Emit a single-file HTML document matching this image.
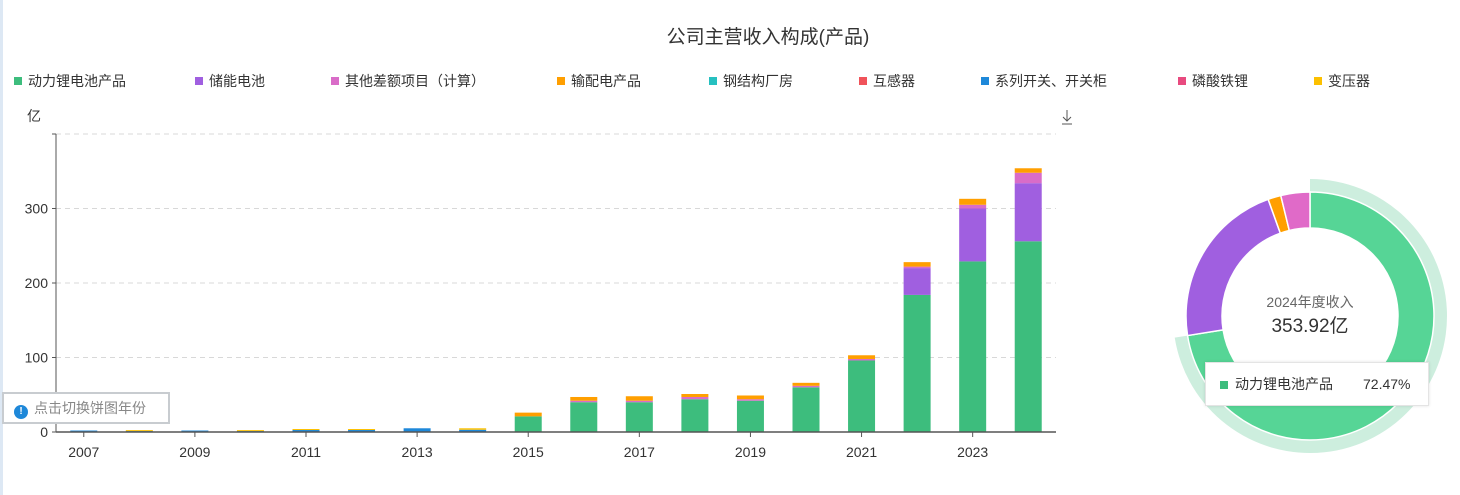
<!DOCTYPE html>
<html><head><meta charset="utf-8">
<style>
body{margin:0;width:1460px;height:495px;background:#fff;overflow:hidden;font-family:"Liberation Sans","Noto Sans CJK SC",sans-serif;position:relative}
.strip{position:absolute;left:0;top:0;width:3px;height:495px;background:#dde8f4}
.title{position:absolute;left:0;width:1536px;top:22px;text-align:center;font-size:19px;color:#333}
.leg{position:absolute;top:71px;font-size:14px;color:#333;white-space:nowrap}
.leg i{display:inline-block;width:8px;height:8px;margin-right:6px;vertical-align:1px}
.tip{position:absolute;left:2px;top:392px;width:164px;height:28px;border:2px solid #c8ccd0;background:#fff;font-size:14px;color:#888;line-height:28px}
.tip b{display:inline-block;width:14px;height:14px;border-radius:50%;background:#1e88d9;color:#fff;font-size:10px;line-height:14px;text-align:center;margin:0 6px 0 10px;vertical-align:-1px}
.tt{position:absolute;left:1205px;top:362px;width:222px;height:42px;background:#fff;border:1px solid #e4e4e4;box-shadow:0 0 3px rgba(0,0,0,.12);font-size:14px;color:#333;line-height:42px}
</style></head><body>
<div class="strip"></div>
<div class="title">公司主营收入构成(产品)</div>
<div id="legend"></div>
<svg id="chart" width="1460" height="495" style="position:absolute;left:0;top:0"></svg>
<div class="tip"><b>!</b>点击切换饼图年份</div>
<div class="tt"><span style="display:inline-block;width:8px;height:8px;background:#3dbd7d;margin:0 7px 0 14px"></span>动力锂电池产品<span style="position:absolute;left:157px">72.47%</span></div>
<script>
const years=[2007,2008,2009,2010,2011,2012,2013,2014,2015,2016,2017,2018,2019,2020,2021,2022,2023,2024];
const seriesNames=["动力锂电池产品","储能电池","其他差额项目（计算）","输配电产品","钢结构厂房","互感器","系列开关、开关柜","磷酸铁锂","变压器"];
const colors=["#3dbd7d","#a05fe0","#d96cc8","#ff9f00","#26c0c0","#f0535a","#1e88d9","#e84a7f","#fcc000"];
const sLithium=[0,0,0,0,0,0,0,0,21,40,40,44,42,60,96,184,229,256];
const sStorage=[0,0,0,0,0,0,0,0,0,0,0,0,0,0,0,36,71,78];
const sOther=[0,0,0,0,0,0,0,0,0,2,2,3,2,2,2,2,5,14];
const sPower=[0,0,0,0,0,0,0,0,5,5,6,4,5,4,5,6,8,6];
const sSteel=[0,0,0,0,0,0,0,0,0,0,0,0,0,0,0,0,0,0];
const sInductor=[0,0,0,0,0,0,0,0,0,0,0,0,0,0,0,0,0,0];
const sSwitch=[2,1.5,2,1.5,3,3,5,3,0,0,0,0,0,0,0,0,0,0];
const sLfp=[0,0,0,0,0,0,0,0,0,0,0,0,0,0,0,0,0,0];
const sTrans=[0,1,0,1,1,1,0,2,0,0,0,0,0,0,0,0,0,0];
const series=[sLithium,sStorage,sOther,sPower,sSteel,sInductor,sSwitch,sLfp,sTrans];
const yTicks=[0,100,200,300,400];
const pieValues=[256.5,78,6,13.4];
const pieColors=["#56d596","#a05fe0","#ff9f00","#e06ac8"];
const pieTotal="353.92亿";

const NS="http://www.w3.org/2000/svg";
const svg=document.getElementById('chart');
function mk(t,a,p){const e=document.createElementNS(NS,t);for(const k in a)e.setAttribute(k,a[k]);(p||svg).appendChild(e);return e;}
const x0=56,x1=1056,y0=432,yTop=134;
const yS=v=>y0-(v-0)/400*(y0-yTop);
const bw=(x1-x0)/years.length;
const xC=i=>x0+bw*(i+0.5);

// legend
const legX=[14,195,331,557,709,859,981,1178,1314];
const lg=document.getElementById('legend');
seriesNames.forEach((n,i)=>{const d=document.createElement('div');d.className='leg';d.style.left=legX[i]+'px';d.innerHTML='<i style="background:'+colors[i]+'"></i>'+n;


lg.appendChild(d);});

// grid
yTicks.forEach(t=>{const y=yS(t);
if(t>0){const l=mk('line',{x1:x0,x2:x1,y1:y,y2:y,stroke:'#d8d8d8','stroke-dasharray':'5,4'});}
if(t<400){const tx=mk('text',{x:48,y:y+5,'text-anchor':'end','font-size':14,fill:'#333'});tx.textContent=t;}
mk('line',{x1:x0-4,x2:x0,y1:y,y2:y,stroke:'#555'});
});
const yt=mk('text',{x:27,y:121,'font-size':14,fill:'#333'});yt.textContent='亿';
const dl=mk('g',{stroke:'#555','stroke-width':1,fill:'none'});


mk('path',{d:'M1067,110V121M1063,117L1067,121L1071,117M1062,124H1072'},dl);

// bars
years.forEach((yr,i)=>{let acc=0;
series.forEach((s,k)=>{const v=s[i];if(!v)return;const yb=yS(acc),yt2=yS(acc+v);acc+=v;
const r=mk('rect',{x:xC(i)-13.5,y:yt2,width:27,height:Math.max(yb-yt2,1),fill:colors[k]});

});
if(i%2===0){const t=mk('text',{x:xC(i),y:457,'text-anchor':'middle','font-size':14,fill:'#333'});t.textContent=yr;
mk('line',{x1:xC(i),x2:xC(i),y1:y0,y2:y0+5,stroke:'#555'});}
});
mk('line',{x1:x0,x2:x0,y1:yTop,y2:y0,stroke:'#555'});
mk('line',{x1:x0,x2:x1,y1:y0,y2:y0,stroke:'#555','stroke-width':1.5});

// donut
const cx=1310,cy=316;
function arc(r0,r1,a0,a1){const p=(r,a)=>[cx+r*Math.sin(a),cy-r*Math.cos(a)];const la=(a1-a0)>Math.PI?1:0;
const [ax,ay]=p(r1,a0),[bx,by]=p(r1,a1),[c1,c2]=p(r0,a1),[d1,d2]=p(r0,a0);
return `M${ax},${ay}A${r1},${r1} 0 ${la} 1 ${bx},${by}L${c1},${c2}A${r0},${r0} 0 ${la} 0 ${d1},${d2}Z`;}
const tot=pieValues.reduce((a,b)=>a+b,0);let a=0;
pieValues.forEach((v,i)=>{const a1=a+v/tot*2*Math.PI;
if(i===0){const h=mk('path',{d:arc(124,137,a,a1),fill:'#cdeede'});}
const p=mk('path',{d:arc(88,124,a,a1),fill:pieColors[i],stroke:'#fff','stroke-width':1.5});


a=a1;});
const c1=mk('text',{x:cx,y:307,'text-anchor':'middle','font-size':14,fill:'#666'});c1.textContent='2024年度收入';
const c2=mk('text',{x:cx,y:332,'text-anchor':'middle','font-size':19,fill:'#333'});c2.textContent=pieTotal;
</script>
</body></html>
